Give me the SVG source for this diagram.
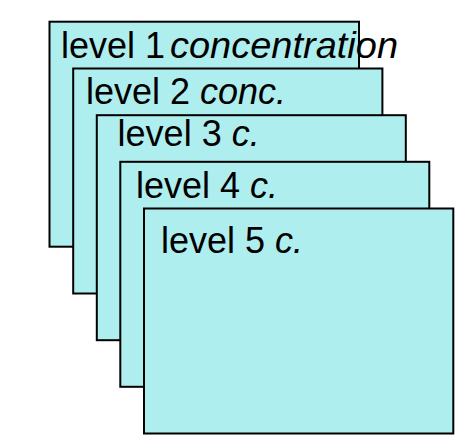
<svg xmlns="http://www.w3.org/2000/svg" width="462" height="443" viewBox="0 0 462 443">
<style>
.box{fill:#afeeee;stroke:#000;stroke-width:2}
.t{font-family:"Liberation Sans",Arial,sans-serif;font-size:36px;fill:#000}
.i{font-style:italic}
</style>
<rect width="462" height="443" fill="#fff"/>
<g id="level1">
<rect class="box" x="49.5" y="21.7" width="309.5" height="225"/>
<text class="t" x="61" y="58.3">level 1</text>
<text class="t i" x="170" y="58.3" textLength="228" lengthAdjust="spacingAndGlyphs">concentration</text>
</g>
<g id="level2">
<rect class="box" x="73.2" y="68.5" width="309.2" height="225"/>
<text class="t" x="86" y="104">level 2 <tspan class="i">conc.</tspan></text>
</g>
<g id="level3">
<rect class="box" x="96.8" y="115.2" width="309" height="225"/>
<text class="t" x="117.6" y="146">level 3 <tspan class="i">c.</tspan></text>
</g>
<g id="level4">
<rect class="box" x="120.3" y="161.8" width="309" height="225"/>
<text class="t" x="136" y="198.3">level 4 <tspan class="i">c.</tspan></text>
</g>
<g id="level5">
<rect class="box" x="144" y="208.5" width="309.3" height="225"/>
<text class="t" x="161" y="253.3">level 5 <tspan class="i">c.</tspan></text>
</g>
<g id="connectors"/>
</svg>
